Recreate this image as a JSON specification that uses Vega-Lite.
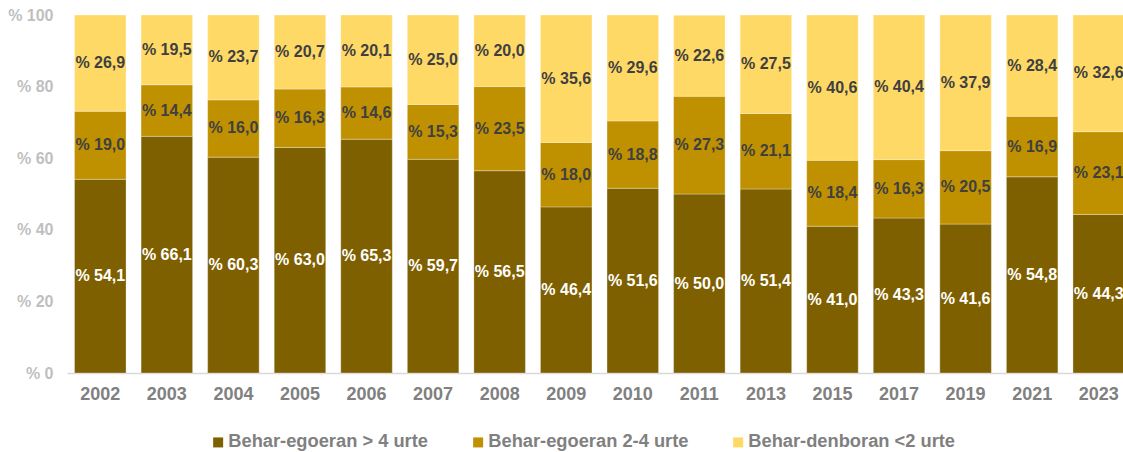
{
  "$schema": "https://vega.github.io/schema/vega-lite/v6.json",
  "width": 1056,
  "height": 358,
  "autosize": {"type": "none"},
  "padding": {"left": 67, "top": 15, "right": 0, "bottom": 79},
  "background": "#ffffff",
  "config": {"view": {"stroke": null}, "font": "Liberation Sans"},
  "data": {"values": [
    {"year": "2002", "cat": "Behar-egoeran > 4 urte", "v": 54.1},
    {"year": "2002", "cat": "Behar-egoeran 2-4 urte", "v": 19.0},
    {"year": "2002", "cat": "Behar-denboran <2 urte", "v": 26.9},
    {"year": "2003", "cat": "Behar-egoeran > 4 urte", "v": 66.1},
    {"year": "2003", "cat": "Behar-egoeran 2-4 urte", "v": 14.4},
    {"year": "2003", "cat": "Behar-denboran <2 urte", "v": 19.5},
    {"year": "2004", "cat": "Behar-egoeran > 4 urte", "v": 60.3},
    {"year": "2004", "cat": "Behar-egoeran 2-4 urte", "v": 16.0},
    {"year": "2004", "cat": "Behar-denboran <2 urte", "v": 23.7},
    {"year": "2005", "cat": "Behar-egoeran > 4 urte", "v": 63.0},
    {"year": "2005", "cat": "Behar-egoeran 2-4 urte", "v": 16.3},
    {"year": "2005", "cat": "Behar-denboran <2 urte", "v": 20.7},
    {"year": "2006", "cat": "Behar-egoeran > 4 urte", "v": 65.3},
    {"year": "2006", "cat": "Behar-egoeran 2-4 urte", "v": 14.6},
    {"year": "2006", "cat": "Behar-denboran <2 urte", "v": 20.1},
    {"year": "2007", "cat": "Behar-egoeran > 4 urte", "v": 59.7},
    {"year": "2007", "cat": "Behar-egoeran 2-4 urte", "v": 15.3},
    {"year": "2007", "cat": "Behar-denboran <2 urte", "v": 25.0},
    {"year": "2008", "cat": "Behar-egoeran > 4 urte", "v": 56.5},
    {"year": "2008", "cat": "Behar-egoeran 2-4 urte", "v": 23.5},
    {"year": "2008", "cat": "Behar-denboran <2 urte", "v": 20.0},
    {"year": "2009", "cat": "Behar-egoeran > 4 urte", "v": 46.4},
    {"year": "2009", "cat": "Behar-egoeran 2-4 urte", "v": 18.0},
    {"year": "2009", "cat": "Behar-denboran <2 urte", "v": 35.6},
    {"year": "2010", "cat": "Behar-egoeran > 4 urte", "v": 51.6},
    {"year": "2010", "cat": "Behar-egoeran 2-4 urte", "v": 18.8},
    {"year": "2010", "cat": "Behar-denboran <2 urte", "v": 29.6},
    {"year": "2011", "cat": "Behar-egoeran > 4 urte", "v": 50.0},
    {"year": "2011", "cat": "Behar-egoeran 2-4 urte", "v": 27.3},
    {"year": "2011", "cat": "Behar-denboran <2 urte", "v": 22.6},
    {"year": "2013", "cat": "Behar-egoeran > 4 urte", "v": 51.4},
    {"year": "2013", "cat": "Behar-egoeran 2-4 urte", "v": 21.1},
    {"year": "2013", "cat": "Behar-denboran <2 urte", "v": 27.5},
    {"year": "2015", "cat": "Behar-egoeran > 4 urte", "v": 41.0},
    {"year": "2015", "cat": "Behar-egoeran 2-4 urte", "v": 18.4},
    {"year": "2015", "cat": "Behar-denboran <2 urte", "v": 40.6},
    {"year": "2017", "cat": "Behar-egoeran > 4 urte", "v": 43.3},
    {"year": "2017", "cat": "Behar-egoeran 2-4 urte", "v": 16.3},
    {"year": "2017", "cat": "Behar-denboran <2 urte", "v": 40.4},
    {"year": "2019", "cat": "Behar-egoeran > 4 urte", "v": 41.6},
    {"year": "2019", "cat": "Behar-egoeran 2-4 urte", "v": 20.5},
    {"year": "2019", "cat": "Behar-denboran <2 urte", "v": 37.9},
    {"year": "2021", "cat": "Behar-egoeran > 4 urte", "v": 54.8},
    {"year": "2021", "cat": "Behar-egoeran 2-4 urte", "v": 16.9},
    {"year": "2021", "cat": "Behar-denboran <2 urte", "v": 28.4},
    {"year": "2023", "cat": "Behar-egoeran > 4 urte", "v": 44.3},
    {"year": "2023", "cat": "Behar-egoeran 2-4 urte", "v": 23.1},
    {"year": "2023", "cat": "Behar-denboran <2 urte", "v": 32.6}
  ]},
  "transform": [
    {"calculate": "indexof(['Behar-egoeran > 4 urte','Behar-egoeran 2-4 urte','Behar-denboran <2 urte'], datum.cat)", "as": "o"},
    {"stack": "v", "groupby": ["year"], "sort": [{"field": "o", "order": "ascending"}], "as": ["y0", "y1"]},
    {"calculate": "min(100, datum.y1)", "as": "y1c"},
    {"calculate": "(datum.y0 + datum.y1c) / 2", "as": "ym"},
    {"calculate": "'% ' + replace(format(datum.v, '.1f'), '.', ',')", "as": "lab"}
  ],
  "encoding": {
    "x": {
      "field": "year", "type": "ordinal", "title": null,
      "scale": {"range": [0, 1065], "paddingInner": 0.226, "paddingOuter": 0.113},
      "axis": {
        "labelAngle": 0, "labelFontSize": 18, "labelFontWeight": "bold", "labelColor": "#808080",
        "labelFont": "Liberation Sans", "labelPadding": 12, "ticks": false,
        "domainColor": "#d9d9d9", "domainWidth": 1.5, "grid": false
      }
    }
  },
  "layer": [
    {
      "mark": {"type": "bar", "stroke": "#ffffff", "strokeWidth": 0.6, "strokeOpacity": 0.5},
      "encoding": {
        "y": {
          "field": "y0", "type": "quantitative", "title": null,
          "scale": {"domain": [0, 100], "nice": false},
          "axis": {
            "values": [0, 20, 40, 60, 80, 100], "labelExpr": "'% ' + datum.value",
            "labelFontSize": 16, "labelFontWeight": "bold", "labelColor": "#bfbfbf",
            "labelFont": "Liberation Sans", "labelPadding": 14, "ticks": false, "domain": false, "grid": false
          }
        },
        "y2": {"field": "y1c"},
        "color": {
          "field": "cat", "type": "nominal",
          "scale": {
            "domain": ["Behar-egoeran > 4 urte", "Behar-egoeran 2-4 urte", "Behar-denboran <2 urte"],
            "range": ["#7F6000", "#BF9000", "#FFD966"]
          },
          "legend": {
            "title": null, "orient": "none", "legendX": 142, "legendY": 418,
            "direction": "horizontal", "columns": 3, "columnPadding": 33, "gridAlign": "all",
            "symbolType": "square", "symbolSize": 100, "symbolStrokeWidth": 0, "symbolOpacity": 1,
            "labelFontSize": 18.3, "labelFontWeight": "bold", "labelColor": "#808080",
            "labelFont": "Liberation Sans", "labelOffset": 1, "labelLimit": 400
          }
        }
      }
    },
    {
      "mark": {"type": "text", "fontWeight": "bold", "fontSize": 16, "font": "Liberation Sans", "baseline": "middle", "align": "center"},
      "encoding": {
        "y": {"field": "ym", "type": "quantitative"},
        "text": {"field": "lab"},
        "color": {"condition": {"test": "datum.o == 0", "value": "#ffffff"}, "value": "#404040"}
      }
    }
  ]
}
